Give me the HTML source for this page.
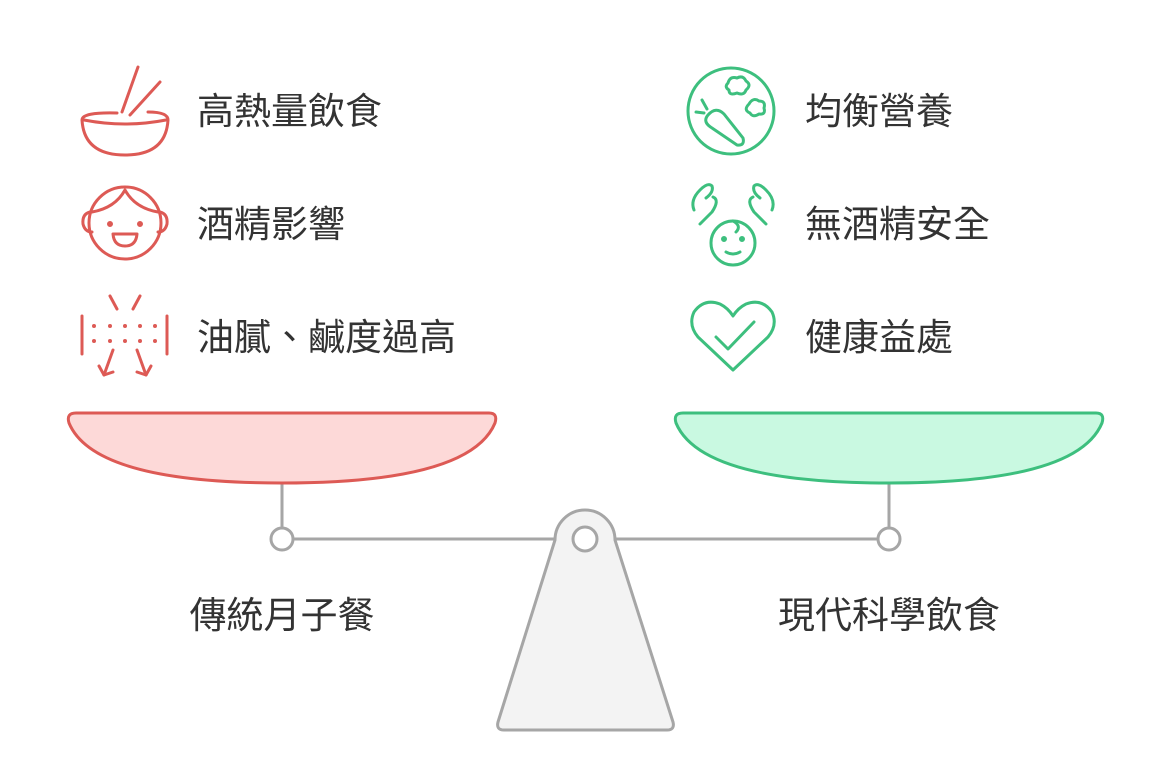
<!DOCTYPE html>
<html><head><meta charset="utf-8"><style>
body{margin:0;background:#fff}
text{font-family:"Liberation Sans","Noto Sans CJK TC",sans-serif;fill:#333;font-size:37px}
</style></head><body>
<svg width="1172" height="755" viewBox="0 0 1172 755" xmlns="http://www.w3.org/2000/svg">
<g fill="none" stroke-linecap="round" stroke-linejoin="round">
<line x1="293" y1="539" x2="878" y2="539" stroke="#a6a6a6" stroke-width="3"/>
<line x1="282" y1="483" x2="282" y2="528" stroke="#a6a6a6" stroke-width="3"/>
<line x1="889" y1="483" x2="889" y2="528" stroke="#a6a6a6" stroke-width="3"/>
<circle cx="282" cy="539" r="11" fill="#fff" stroke="#a6a6a6" stroke-width="3"/>
<circle cx="889" cy="539" r="11" fill="#fff" stroke="#a6a6a6" stroke-width="3"/>
<path d="M555,540 A30,30 0 0 1 615,540 L673,722 Q675,730 667,730 H504 Q496,730 498,722 Z" fill="#f3f3f3" stroke="#a6a6a6" stroke-width="3"/>
<circle cx="585" cy="539" r="12" fill="#fff" stroke="#a6a6a6" stroke-width="3"/>
<path d="M76,413 H489 Q498,413 495,423 Q470,483 282,483 Q94,483 69,423 Q66,413 76,413 Z" fill="#fdd9d8" stroke="#dd5a55" stroke-width="3"/>
<path d="M683,413 H1096 Q1105,413 1102,423 Q1077,483 889,483 Q701,483 676,423 Q673,413 683,413 Z" fill="#c9f9e1" stroke="#3dbf7e" stroke-width="3"/>
<g stroke="#dd5a55" stroke-width="3">
<path d="M117,113 Q82,112 82,120 Q84,155 125,155 Q166,155 168,120 Q168,112 148,112"/>
<path d="M84,120 Q125,128 166,120"/>
<line x1="138" y1="67" x2="122" y2="112"/><line x1="160" y1="82" x2="130" y2="115"/>
<circle cx="125" cy="223" r="36"/>
<path d="M92,212 Q115,208 125,190 Q135,208 158,212"/>
<path d="M90,212 Q82,214 83,224 Q85,232 92,232"/><path d="M160,212 Q168,214 167,224 Q165,232 158,232"/>
<circle cx="110" cy="224" r="1.5" fill="#dd5a55"/><circle cx="140" cy="224" r="1.5" fill="#dd5a55"/>
<path d="M113,234 H137 Q136,246 125,246 Q114,246 113,234 Z"/>
<line x1="82" y1="316" x2="82" y2="354"/><line x1="167" y1="316" x2="167" y2="354"/>
<line x1="110" y1="296" x2="117" y2="309"/><line x1="140" y1="296" x2="133" y2="309"/>
<line x1="113" y1="350" x2="104" y2="375"/><path d="M99,366 L104,375 L113,372"/>
<line x1="137" y1="350" x2="146" y2="375"/><path d="M151,366 L146,375 L137,372"/>
</g>
<g fill="#dd5a55">
<circle cx="94" cy="326" r="2"/><circle cx="110" cy="326" r="2"/><circle cx="125" cy="326" r="2"/><circle cx="140" cy="326" r="2"/><circle cx="155" cy="326" r="2"/>
<circle cx="94" cy="341" r="2"/><circle cx="110" cy="341" r="2"/><circle cx="125" cy="341" r="2"/><circle cx="140" cy="341" r="2"/><circle cx="155" cy="341" r="2"/>
</g>
<g stroke="#3dbf7e" stroke-width="3">
<circle cx="731" cy="111" r="43"/>
<path d="M708,115 Q716,106 724,114 L743,138 Q745,146 737,145 L712,128 Q702,122 708,115 Z"/>
<line x1="704" y1="113" x2="696" y2="112"/><line x1="707" y1="109" x2="702" y2="100"/>
<path d="M728,83 Q730,76 737,78 Q743,75 746,81 Q752,85 746,90 Q744,96 737,93 Q729,96 729,90 Q724,87 728,83 Z"/>
<path d="M749,104 Q753,97 759,101 Q766,101 764,108 Q766,115 759,114 Q753,118 750,113 Q743,110 749,104 Z"/>
<path d="M694,210 Q690,200 700,190 Q708,182 712,186 Q714,192 706,198 M713,197 Q720,200 712,212 L700,224"/>
<path d="M772,210 Q776,200 766,190 Q758,182 754,186 Q752,192 760,198 M753,197 Q746,200 754,212 L766,224"/>
<circle cx="733" cy="243" r="22"/>
<path d="M733,221 Q742,226 736,232"/>
<circle cx="724" cy="239" r="1.5" fill="#3dbf7e"/><circle cx="742" cy="239" r="1.5" fill="#3dbf7e"/>
<path d="M726,252 Q733,256 740,252"/>
<path d="M733,370 L698,337 Q688,325 694,312 Q704,298 720,304 Q728,308 733,316 Q738,308 746,304 Q762,298 772,312 Q778,325 768,337 Z"/>
<path d="M716,337 L728,349 L754,322"/>
</g>
</g>
<text x="197" y="124">高熱量飲食</text>
<text x="197" y="237">酒精影響</text>
<text x="197" y="350">油膩、鹹度過高</text>
<text x="805" y="124">均衡營養</text>
<text x="805" y="237">無酒精安全</text>
<text x="805" y="350">健康益處</text>
<text x="282" y="628" text-anchor="middle">傳統月子餐</text>
<text x="889" y="628" text-anchor="middle">現代科學飲食</text>
</svg>
</body></html>
